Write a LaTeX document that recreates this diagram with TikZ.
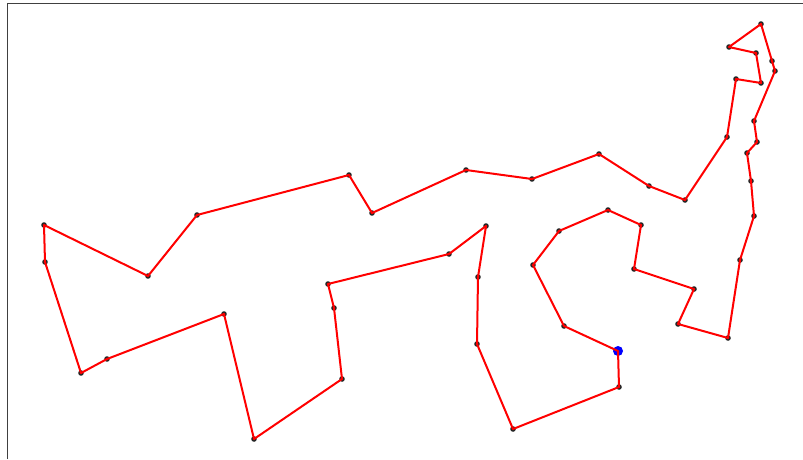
\documentclass[tikz,border=0pt]{standalone}
\begin{document}
\begin{tikzpicture}[x=1pt, y=-1pt]
    % Define styles
    \tikzstyle{city} = [fill=black!85, circle, inner sep=0pt, minimum size=5.6pt]
    \tikzstyle{start} = [fill=blue, circle, inner sep=0pt, minimum size=10pt]
    \tikzstyle{tour} = [draw=red, line width=2pt, line cap=round, line join=round]
    \tikzstyle{spine} = [draw=black!75, line width=1pt]

    % Canvas and axes frame
    \useasboundingbox (0,0) rectangle (803,459);
    \draw[spine] (7.5,459) -- (7.5,3.5) -- (803,3.5);

    % City nodes, in tour order
    \foreach \x/\y [count=\i] in {618/351, 619/387, 513/429, 477/344, 478/277, 486/226,
        449/254, 328/284, 334/308, 342/379, 254/439, 224/314, 107/359, 81/373,
        45/262, 44/225, 148/276, 197/215, 349/175, 372/213, 466/170, 532/179,
        599/154, 649/186, 685/200, 727/137, 736/79, 761/83, 756/53, 729/47,
        761/24, 772/61, 775/71, 754/121, 757/142, 747/153, 751/181, 754/216,
        740/260, 728/338, 678/324, 694/289, 634/269, 641/225, 608/210, 559/231,
        533/265, 564/326}
        \node[city] (c\i) at (\x,\y) {};

    % Starting city
    \node[start] (s) at (c1) {};

    % Tour edges
    \foreach \i in {1,...,48} {
        \pgfmathtruncatemacro{\j}{mod(\i,48)+1}
        \draw[tour] (c\i.center) -- (c\j.center);
    }
\end{tikzpicture}
\end{document}
